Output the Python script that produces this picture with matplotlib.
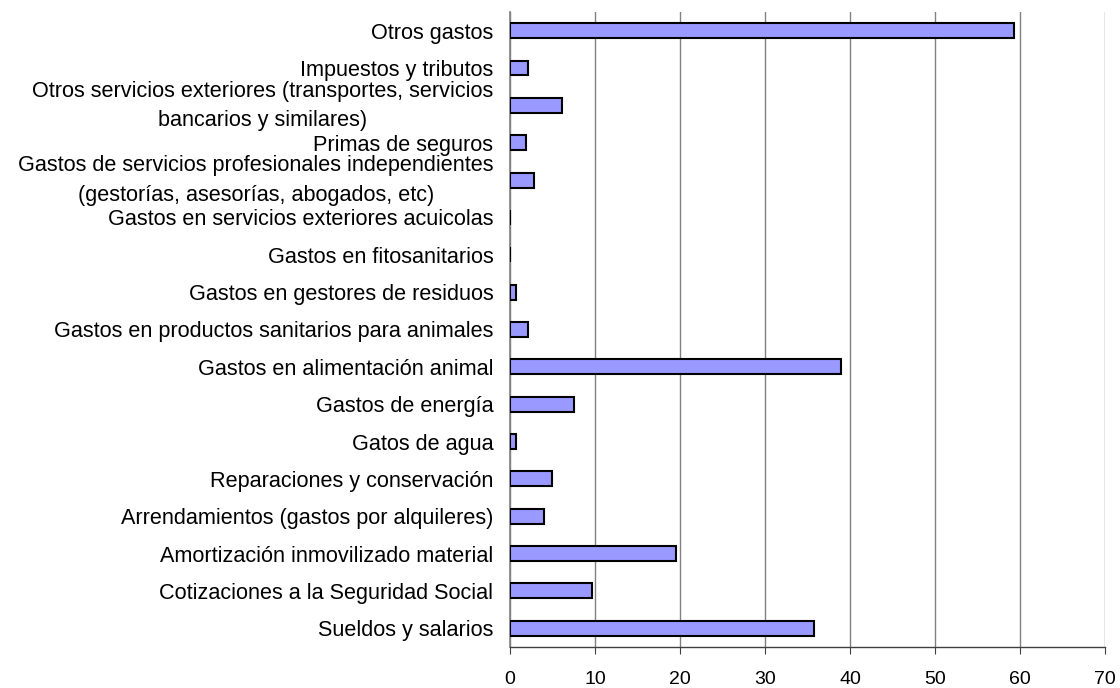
import matplotlib.pyplot as plt
from matplotlib.transforms import ScaledTranslation

plt.rcParams['font.family'] = ['Liberation Sans', 'DejaVu Sans']

categorias = [
    "Sueldos y salarios",
    "Cotizaciones a la Seguridad Social",
    "Amortización inmovilizado material",
    "Arrendamientos (gastos por alquileres)",
    "Reparaciones y conservación",
    "Gatos de agua",
    "Gastos de energía",
    "Gastos en alimentación animal",
    "Gastos en productos sanitarios para animales",
    "Gastos en gestores de residuos",
    "Gastos en fitosanitarios",
    "Gastos en servicios exteriores acuicolas",
    "Gastos de servicios profesionales independientes\n(gestorías, asesorías, abogados, etc)",
    "Primas de seguros",
    "Otros servicios exteriores (transportes, servicios\nbancarios y similares)",
    "Impuestos y tributos",
    "Otros gastos",
]
valores = [35.8, 9.7, 19.5, 4.0, 4.9, 0.7, 7.5, 38.9, 2.1, 0.7, 0.0, 0.0,
           2.8, 1.9, 6.1, 2.1, 59.3]
xticks = [0, 10, 20, 30, 40, 50, 60, 70]

fig = plt.figure(figsize=(11.2, 6.88), dpi=100)
ax = fig.add_axes([0.4554, 0.0596, 0.5312, 0.923])

y = range(len(categorias))
ax.barh(y, valores, height=0.4, color="#9999FF", edgecolor="black",
        linewidth=1.5, zorder=3)

ax.set_xlim(0, 70)
ax.set_ylim(-0.5, len(categorias) - 0.5)
ax.set_xticks(xticks)
ax.set_yticks(list(y))
ax.set_yticklabels(categorias, fontsize=15.6, multialignment="center",
                   linespacing=1.55)
ax.tick_params(axis="y", length=0, pad=12)
ax.tick_params(axis="x", labelsize=14, length=5, color="#404040", pad=12,
               direction="out")

# the two-line labels sit a bit higher in the original
for lab in ax.get_yticklabels():
    if "\n" in lab.get_text():
        lab.set_transform(lab.get_transform() +
                          ScaledTranslation(0, 4.5 / 72, fig.dpi_scale_trans))

ax.grid(axis="x", color="#808080", linewidth=1, zorder=0)
for s in ["top", "right"]:
    ax.spines[s].set_visible(False)
ax.spines["left"].set_color("#808080")
ax.spines["left"].set_linewidth(1.2)
ax.spines["bottom"].set_color("#404040")
ax.spines["bottom"].set_linewidth(1)

fig.savefig("out.png", dpi=100)
